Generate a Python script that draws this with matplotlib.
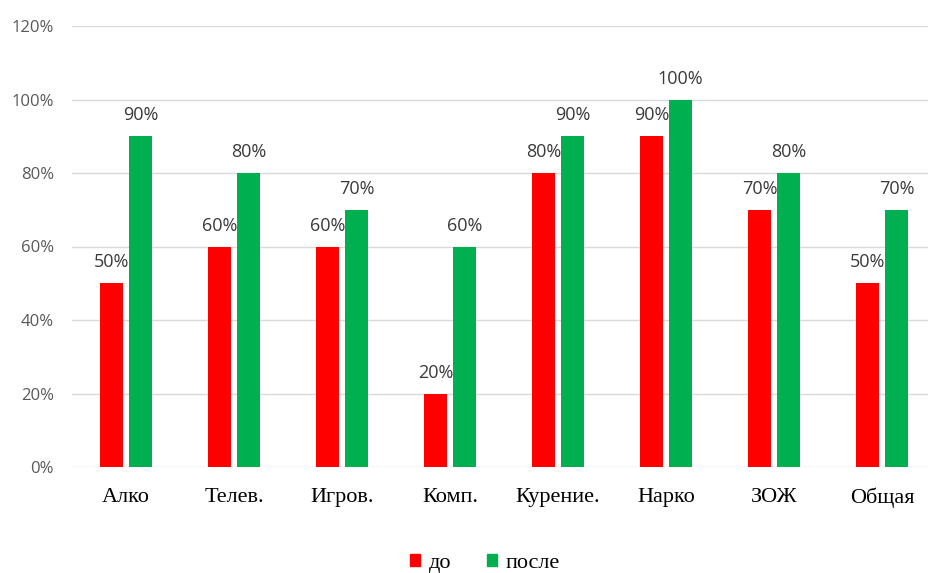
import matplotlib.pyplot as plt
import numpy as np
from matplotlib.patches import Patch

categories = ['Алко', 'Телев.', 'Игров.', 'Комп.', 'Курение.', 'Нарко', 'ЗОЖ', 'Общая']
before = [50, 60, 60, 20, 80, 90, 70, 50]
after = [90, 80, 70, 60, 90, 100, 80, 70]

red = '#FF0000'
green = '#00B050'
label_color = '#3a3a3a'

fig = plt.figure(figsize=(9.29, 5.73), dpi=100)
ax = fig.add_axes([72 / 929, 106 / 573, 1 - 72 / 929, (467 - 26) / 573])

x = np.arange(len(categories))
w = 0.21
off = 0.134
b1 = ax.bar(x - off, before, width=w, color=red, zorder=3)
b2 = ax.bar(x + off, after, width=w, color=green, zorder=3)

for bars, vals in [(b1, before), (b2, after)]:
    for bar, v in zip(bars, vals):
        ax.text(bar.get_x() + bar.get_width() / 2, v + 3.2, f'{v}%',
                ha='center', va='bottom', fontsize=13, color=label_color,
                family='Open Sans', zorder=4)

ax.set_ylim(0, 120)
ax.set_xlim(-0.5, -0.5 + (929 - 72) / 108)
ax.set_yticks(range(0, 121, 20))
ax.set_yticklabels([f'{t}%' for t in range(0, 121, 20)], family='Open Sans',
                   fontsize=12, color='#595959')
ax.set_xticks(x)
ax.set_xticklabels(categories, family='Liberation Serif', fontsize=16, color='black')
ax.tick_params(axis='both', length=0)
ax.tick_params(axis='y', pad=13)
ax.tick_params(axis='x', pad=15)
ax.grid(axis='y', color='#d9d9d9', linewidth=1, zorder=0)
for s in ax.spines.values():
    s.set_visible(False)

handles = [Patch(color=red, label='до'), Patch(color=green, label='после')]
fig.legend(handles=handles, loc='lower center', bbox_to_anchor=(0.522, -0.035), ncol=2,
           frameon=False, prop={'family': 'Liberation Serif', 'size': 16},
           handlelength=0.45, handleheight=0.45, handletextpad=0.4, columnspacing=1.6)

fig.savefig('out.png', dpi=100)
